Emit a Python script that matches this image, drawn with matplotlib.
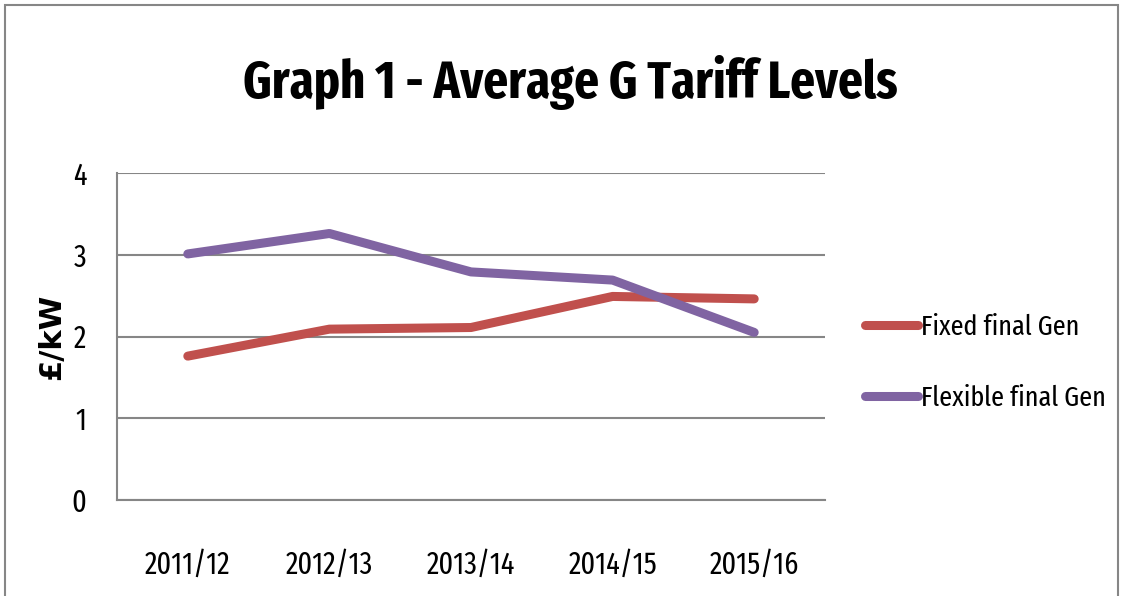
import numpy as np
import matplotlib.pyplot as plt
from matplotlib.patches import Rectangle

# 数据
years = ['2011/12', '2012/13', '2013/14', '2014/15', '2015/16']
fixed_gen = [1.76, 2.09, 2.11, 2.49, 2.46]
flexible_gen = [3.01, 3.26, 2.79, 2.69, 2.05]

narrow = ['Fira Sans Extra Condensed', 'DejaVu Sans']

fig = plt.figure(figsize=(11.24, 5.96), dpi=100)
ax = fig.add_axes([117/1124, 1-500/596, 708/1124, 327/596])

x = np.arange(len(years))
ax.plot(x, fixed_gen, color='#C0504D', linewidth=6.5, solid_capstyle='round',
        solid_joinstyle='round', label='Fixed final Gen', zorder=3)
ax.plot(x, flexible_gen, color='#8064A2', linewidth=6.5, solid_capstyle='round',
        solid_joinstyle='round', label='Flexible final Gen', zorder=3)

ax.set_xlim(-0.5, len(years) - 0.5)
ax.set_ylim(0, 4)
ax.set_yticks([0, 1, 2, 3, 4])
ax.set_xticks(x)
ax.set_xticklabels(years)
ax.grid(axis='y', color='#868686', linewidth=1.5)
ax.set_axisbelow(True)

for s in ['top', 'right']:
    ax.spines[s].set_visible(False)
for s in ['left', 'bottom']:
    ax.spines[s].set_color('#868686')
    ax.spines[s].set_linewidth(1.5)
ax.tick_params(length=0)
ax.tick_params(axis='x', pad=36)
ax.tick_params(axis='y', pad=22)
for lab in ax.get_xticklabels() + ax.get_yticklabels():
    lab.set_family(narrow)
    lab.set_fontsize(22)

ax.set_ylabel('£/kW', fontsize=22, fontweight='bold', family=['DejaVu Sans'])
ax.yaxis.set_label_coords(-51/708, 0.5)

fig.text(570/1124, 1-82/596, 'Graph 1 - Average G Tariff Levels', ha='center', va='center',
         fontsize=38, fontweight='bold', family=narrow)

fig.legend(loc='center left', bbox_to_anchor=(865/1124, 1-363/596), frameon=False,
           prop={'family': narrow, 'size': 20.5}, handlelength=1.85, handletextpad=0.12,
           labelspacing=1.55, borderaxespad=0, borderpad=0)

# 外框
fig.patches.append(Rectangle((5/1124, -0.1), 1113/1124, 1.1 - 5/596, transform=fig.transFigure,
                             fill=False, edgecolor='#868686', linewidth=1.5))

fig.savefig('out.png', dpi=100)
